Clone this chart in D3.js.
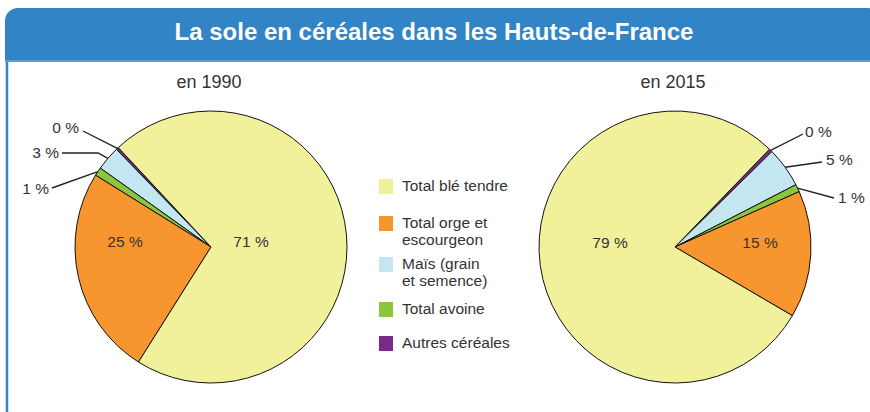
<!DOCTYPE html>
<html lang="fr">

<head>
  <meta charset='utf-8'>
  <script src='https://cdn.jsdelivr.net/npm/d3@7'></script>
  <title>La sole en céréales</title>
  <style>
    body {
      margin: 0;
      background: #fff;
    }

    svg text {
      font-family: 'Liberation Sans', Arial, sans-serif;
      fill: #333;
    }
  </style>
</head>

<body>
  <div id='chart'></div>
  <script>
    // Data (percent of cereal area), in drawing order of the slices.

    var categories = ['Autres céréales', 'Maïs (grain et semence)', 'Total avoine', 'Total orge et escourgeon', 'Total blé tendre'];
    var values1990 = [0.3, 2.9, 1.0, 24.9, 70.9];
    var values2015 = [0.4, 4.8, 0.9, 15.1, 78.8];
    var years = ['en 1990', 'en 2015'];

    // Legend order and wrapped labels.

    var legendKeys = ['Total blé tendre', 'Total orge et escourgeon', 'Maïs (grain et semence)', 'Total avoine', 'Autres céréales'];
    var legendLines = [['Total blé tendre'], ['Total orge et', 'escourgeon'], ['Maïs (grain', 'et semence)'], ['Total avoine'], ['Autres céréales']];

    var colors = ['#7b2a8a', '#c4e6f0', '#8cc63f', '#f7962e', '#f2f19b'];

    var width = 870,
      height = 412;

    var svg = d3.select('#chart')
      .append('svg')
      .attr('width', width)
      .attr('height', height);

    // Frame and header.

    svg.append('rect')
      .attr('x', 7)
      .attr('y', 40)
      .attr('width', 900)
      .attr('height', 400)
      .attr('fill', '#fff')
      .attr('stroke', '#3184c6')
      .attr('stroke-width', 2.5);

    svg.append('rect')
      .attr('x', 5)
      .attr('y', 8)
      .attr('width', 876)
      .attr('height', 53)
      .attr('rx', 13)
      .attr('fill', '#3184c6');

    svg.append('rect')
      .attr('x', 5)
      .attr('y', 30)
      .attr('width', 876)
      .attr('height', 31)
      .attr('fill', '#3184c6');

    svg.append('rect')
      .attr('x', 5)
      .attr('y', 60)
      .attr('width', 876)
      .attr('height', 2)
      .attr('fill', '#5a9fd6');

    svg.append('text')
      .attr('x', 434)
      .attr('y', 40)
      .attr('text-anchor', 'middle')
      .style('font-size', '24px')
      .style('font-weight', 'bold')
      .style('fill', '#fff')
      .text('La sole en céréales dans les Hauts-de-France');

    // Pie layouts: 1990 runs counter-clockwise, 2015 clockwise.

    var radius = 136;
    var deg = Math.PI / 180;

    var pies = [{
        values: values1990,
        cx: 211,
        cy: 247,
        start: -43 * deg,
        end: -403 * deg,
        big: { 3: [-86, -5], 4: [40, -5] },
        leaders: {
          0: { pts: [[83, 131]], text: [79, 128], anchor: 'end' },
          1: { pts: [[98, 153], [62, 153]], text: [59, 153], anchor: 'end' },
          2: { pts: [[52, 188]], text: [49, 189], anchor: 'end' }
        }
      },
      {
        values: values2015,
        cx: 675,
        cy: 247,
        start: 44 * deg,
        end: 404 * deg,
        big: { 3: [85, -4], 4: [-65, -4] },
        leaders: {
          0: { pts: [[803, 134]], text: [805, 132], anchor: 'start' },
          1: { pts: [[822, 162]], text: [826, 160], anchor: 'start' },
          2: { pts: [[834, 198]], text: [838, 198], anchor: 'start' }
        }
      }
    ];

    var arc = d3.arc()
      .innerRadius(0)
      .outerRadius(radius);

    var fmt = function(v) {
      return Math.round(v) + ' %';
    };

    pies.forEach(function(p, k) {

      var pie = d3.pie()
        .sort(null)
        .startAngle(p.start)
        .endAngle(p.end);

      var slices = pie(p.values);

      var g = svg.append('g')
        .attr('transform', 'translate(' + p.cx + ',' + p.cy + ')');

      g.selectAll('path')
        .data(slices)
        .enter()
        .append('path')
        .attr('d', arc)
        .attr('fill', function(d, i) {
          return colors[i];
        })
        .attr('stroke', '#111')
        .attr('stroke-width', 1)
        .attr('stroke-linejoin', 'round');

      // Year subtitle.

      svg.append('text')
        .attr('x', p.cx - 2)
        .attr('y', 88)
        .attr('text-anchor', 'middle')
        .style('font-size', '18px')
        .text(years[k]);

      // Labels inside the two large slices.

      slices.forEach(function(d, i) {
        if (p.big[i]) {
          svg.append('text')
            .attr('x', p.cx + p.big[i][0])
            .attr('y', p.cy + p.big[i][1])
            .attr('dy', '0.35em')
            .attr('text-anchor', 'middle')
            .style('font-size', '15.5px')
            .text(fmt(d.value));
        }

        // Leader lines for the small slices.

        if (p.leaders[i]) {
          var a = (d.startAngle + d.endAngle) / 2;
          var edge = [p.cx + radius * Math.sin(a), p.cy - radius * Math.cos(a)];
          var line = [edge].concat(p.leaders[i].pts);

          svg.append('path')
            .attr('d', d3.line()(line))
            .attr('fill', 'none')
            .attr('stroke', '#222')
            .attr('stroke-width', 1.4);

          svg.append('text')
            .attr('x', p.leaders[i].text[0])
            .attr('y', p.leaders[i].text[1])
            .attr('dy', '0.35em')
            .attr('text-anchor', p.leaders[i].anchor)
            .style('font-size', '15.5px')
            .text(fmt(d.value));
        }
      });
    });

    // Legend.

    var legendTops = [179, 216, 257, 302, 336];

    var legend = svg.selectAll('.legend')
      .data(legendKeys)
      .enter()
      .append('g')
      .attr('class', 'legend')
      .attr('transform', function(d, i) {
        return 'translate(379,' + legendTops[i] + ')';
      });

    legend.append('rect')
      .attr('width', 14)
      .attr('height', 15)
      .attr('fill', function(d) {
        return colors[categories.indexOf(d)];
      });

    legend.each(function(d, i) {
      d3.select(this).selectAll('text')
        .data(legendLines[i])
        .enter()
        .append('text')
        .attr('x', 23)
        .attr('y', function(t, j) {
          return 12 + j * 16.5;
        })
        .style('font-size', '15.5px')
        .text(function(t) {
          return t;
        });
    });
  </script>
</body>

</html>
